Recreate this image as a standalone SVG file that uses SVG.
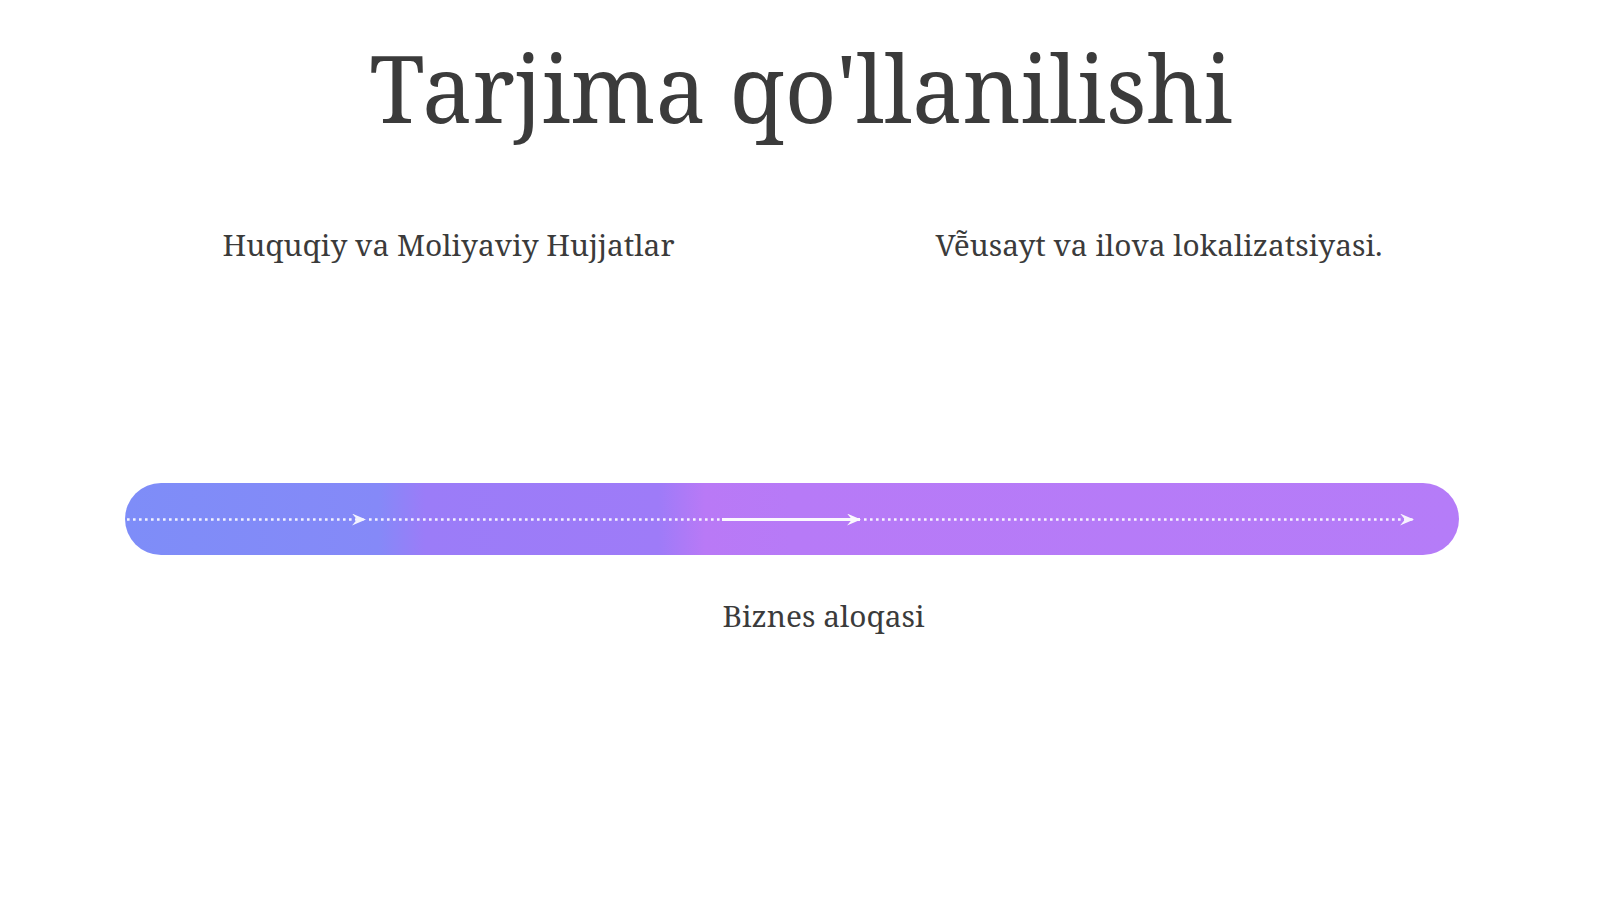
<svg xmlns="http://www.w3.org/2000/svg" width="1600" height="899" viewBox="0 0 1600 899">
  <defs>
    <linearGradient id="barGrad" gradientUnits="userSpaceOnUse" x1="125" y1="0" x2="1459" y2="0">
      <stop offset="0" stop-color="#7e8df8"/>
      <stop offset="0.19" stop-color="#8589f8"/>
      <stop offset="0.225" stop-color="#9b7cf8"/>
      <stop offset="0.40" stop-color="#9e7bf8"/>
      <stop offset="0.435" stop-color="#b979f6"/>
      <stop offset="0.50" stop-color="#b77af7"/>
      <stop offset="1" stop-color="#b57cf8"/>
    </linearGradient>
    <marker id="chev" viewBox="0 0 14 12" refX="13" refY="6" markerWidth="14" markerHeight="12" markerUnits="userSpaceOnUse" orient="auto">
      <path d="M0,0 L14,6 L0,12 L5,6 Z" fill="#ffffff"/>
    </marker>
  </defs>
  <style>
    .serif { font-family: "Noto Serif", "DejaVu Serif", "Liberation Serif", serif; fill: #3b3b3b; }
    .title { font-size: 93px; }
    .label { font-size: 29.5px; }
    .dots { stroke: #ffffff; stroke-width: 2.6; stroke-dasharray: 2.6 3.4; fill: none; opacity: 0.9; }
    .solid { stroke: #ffffff; stroke-width: 2.8; fill: none; opacity: 0.95; }
  </style>
  <rect width="1600" height="899" fill="#ffffff"/>

  <g id="title">
    <text class="serif title" x="801" y="123" text-anchor="middle" textLength="863" lengthAdjust="spacingAndGlyphs">Tarjima qo'llanilishi</text>
  </g>

  <g id="bar">
    <rect x="125" y="483" width="1334" height="72" rx="36" ry="36" fill="url(#barGrad)"/>
  </g>

  <g id="node-legal">
    <text class="serif label" x="448.5" y="256" text-anchor="middle" textLength="452" lengthAdjust="spacingAndGlyphs">Huquqiy va Moliyaviy Hujjatlar</text>
  </g>

  <g id="node-web">
    <text class="serif label" x="1159" y="256" text-anchor="middle" textLength="447" lengthAdjust="spacingAndGlyphs">Ve&#x304;&#x303;usayt va ilova lokalizatsiyasi.</text>
  </g>

  <g id="node-business">
    <text class="serif label" x="823.5" y="627" text-anchor="middle" textLength="202" lengthAdjust="spacingAndGlyphs">Biznes aloqasi</text>
  </g>

  <g id="connectors">
    <line class="dots" x1="127" y1="519.5" x2="365" y2="519.5" marker-end="url(#chev)"/>
    <line class="dots" x1="369" y1="519.5" x2="722" y2="519.5"/>
    <line class="solid" x1="722" y1="519.5" x2="860" y2="519.5" marker-end="url(#chev)"/>
    <line class="dots" x1="864" y1="519.5" x2="1413" y2="519.5" marker-end="url(#chev)"/>
  </g>
</svg>
